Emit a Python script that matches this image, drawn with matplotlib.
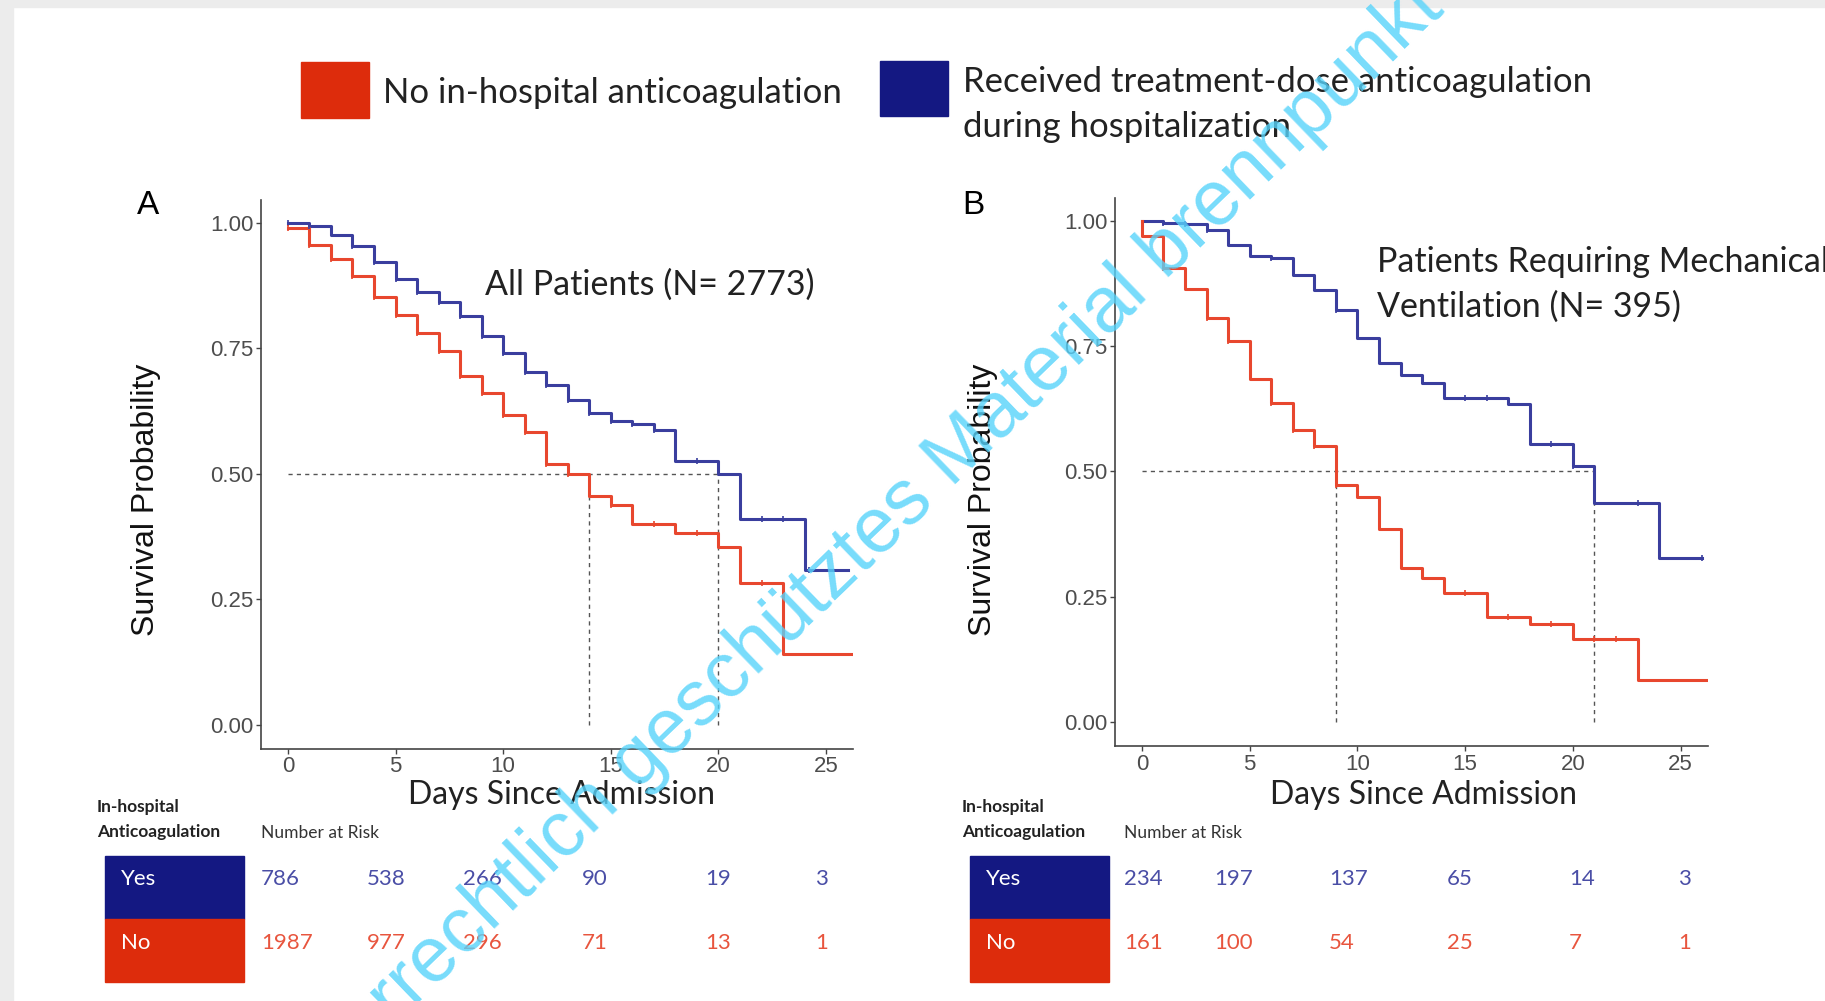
import numpy as np
import matplotlib
matplotlib.use('Agg')
import matplotlib.pyplot as plt
from matplotlib.patches import Rectangle

# ---- data ----
# panel A: all patients
a_blue_t = [0, 1, 2, 3, 4, 5, 6, 7, 8, 9, 10, 11, 12, 13, 14, 15, 16, 17, 18, 20, 21, 24]
a_blue_s = [1.00, 0.994, 0.976, 0.953, 0.922, 0.887, 0.861, 0.841, 0.814, 0.775, 0.741,
            0.702, 0.676, 0.647, 0.620, 0.606, 0.600, 0.588, 0.525, 0.499, 0.409, 0.308]
a_blue_end = 26.0
a_red_t = [0, 1, 2, 3, 4, 5, 6, 7, 8, 9, 10, 11, 12, 13, 14, 15, 16, 18, 20, 21, 23]
a_red_s = [0.99, 0.956, 0.928, 0.894, 0.852, 0.816, 0.781, 0.745, 0.695, 0.661, 0.616,
           0.583, 0.520, 0.500, 0.455, 0.438, 0.399, 0.382, 0.354, 0.282, 0.142]
a_red_end = 26.2
a_blue_cens = [0, 1, 3, 4, 5, 6, 7, 8, 9, 10, 11, 12, 13, 14, 15, 16, 17, 19, 22, 23, 24.2]
a_red_cens = [0, 1, 2, 3, 4, 5, 6, 7, 8, 9, 10, 11, 12, 13, 15, 17, 19, 22]
a_medians = [14, 20]

# panel B: mechanical ventilation
b_blue_t = [0, 1, 2, 3, 4, 5, 6, 7, 8, 9, 10, 11, 12, 13, 14, 17, 18, 20, 21, 24]
b_blue_s = [1.00, 0.996, 0.993, 0.982, 0.951, 0.929, 0.925, 0.892, 0.862, 0.822, 0.766,
            0.716, 0.693, 0.676, 0.646, 0.634, 0.554, 0.510, 0.437, 0.328]
b_blue_end = 26.0
b_red_t = [0, 0, 1, 2, 3, 4, 5, 6, 7, 8, 9, 10, 11, 12, 13, 14, 16, 18, 20, 23]
b_red_s = [1.00, 0.969, 0.905, 0.864, 0.805, 0.761, 0.684, 0.637, 0.582, 0.550, 0.474,
           0.450, 0.385, 0.308, 0.287, 0.258, 0.210, 0.197, 0.167, 0.085]
b_red_end = 26.2
b_blue_cens = [1, 2, 3, 6, 9, 15, 16, 19, 20, 23, 26]
b_red_cens = [1, 3, 4, 6, 7, 8, 9, 15, 17, 19, 21, 22]
b_medians = [9, 21]

risk_yes_A = [786, 538, 266, 90, 19, 3]
risk_no_A = [1987, 977, 296, 71, 13, 1]
risk_yes_B = [234, 197, 137, 65, 14, 3]
risk_no_B = [161, 100, 54, 25, 7, 1]

xticks = [0, 5, 10, 15, 20, 25]
yticks = [0, 0.25, 0.5, 0.75, 1.0]
ytick_labels = ['0.00', '0.25', '0.50', '0.75', '1.00']

label_red = 'No in-hospital anticoagulation'
label_blue = 'Received treatment-dose anticoagulation\nduring hospitalization'

# ---- styles / layout ----
W, H = 1825, 1001
RED_CURVE = '#E8472E'
BLUE_CURVE = '#3A3E9E'
RED_BOX = '#DD2C0C'
BLUE_BOX = '#141882'
RED_NUM = '#E8553E'
BLUE_NUM = '#4A4EA6'
ARIAL = 'Liberation Sans'
CAL = 'Lato'

fig = plt.figure(figsize=(W / 100, H / 100), dpi=100)
fig.patch.set_facecolor('white')


def fx(x):
    return x / W


def fy(y):
    return 1 - y / H


# grey frame at top and left edge of the screenshot
fig.patches.append(Rectangle((0, fy(7)), 1, 7 / H, transform=fig.transFigure,
                             color='#ececec', zorder=0))
fig.patches.append(Rectangle((0, 0), fx(13), 1, transform=fig.transFigure,
                             color='#ececec', zorder=0))


def km_panel(rect, curves, medians):
    ax = fig.add_axes(rect)
    for t, s, end, cens, col in curves:
        tt = list(t) + [end]
        ss = list(s) + [s[-1]]
        ax.step(tt, ss, where='post', color=col, lw=2.2, zorder=3)
        cy = [ss[np.searchsorted(tt, c, side='right') - 1] for c in cens]
        ax.plot(cens, cy, ls='none', marker='|', ms=5, mew=1.2, color=col, zorder=4)
    ax.plot([0, max(medians)], [0.5, 0.5], ls=(0, (3, 3)), color='#555555', lw=1.0, zorder=2)
    for m in medians:
        ax.plot([m, m], [0, 0.5], ls=(0, (3, 3)), color='#555555', lw=1.0, zorder=2)
    ax.set_xlim(-1.25, 26.25)
    ax.set_ylim(-0.047, 1.045)
    ax.set_xticks(xticks)
    ax.set_yticks(yticks)
    ax.set_yticklabels(ytick_labels)
    for side in ['top', 'right']:
        ax.spines[side].set_visible(False)
    for side in ['left', 'bottom']:
        ax.spines[side].set_color('#444444')
        ax.spines[side].set_linewidth(1.2)
    ax.tick_params(length=3.5, width=1, color='#444444', labelcolor='#4d4d4d',
                   labelsize=16, pad=2)
    for lab in ax.get_xticklabels() + ax.get_yticklabels():
        lab.set_fontfamily(ARIAL)
    return ax


axA = km_panel([fx(261), fy(748.5), fx(853 - 261), (748.5 - 200) / H],
               [(a_blue_t, a_blue_s, a_blue_end, a_blue_cens, BLUE_CURVE),
                (a_red_t, a_red_s, a_red_end, a_red_cens, RED_CURVE)], a_medians)
axB = km_panel([fx(1115), fy(746), fx(1707.6 - 1115), (746 - 198) / H],
               [(b_blue_t, b_blue_s, b_blue_end, b_blue_cens, BLUE_CURVE),
                (b_red_t, b_red_s, b_red_end, b_red_cens, RED_CURVE)], b_medians)

# panel letters, axis titles, annotations
fig.text(fx(148), fy(206), 'A', fontsize=24, family=ARIAL, ha='center', va='center')
fig.text(fx(973), fy(206), 'B', fontsize=24, family=ARIAL, ha='center', va='center')
for xc in [146, 983]:
    fig.text(fx(xc), fy(500), 'Survival Probability', fontsize=23, family=ARIAL,
             rotation=90, ha='center', va='center', color='#111111')
fig.text(fx(562), fy(795), 'Days Since Admission', fontsize=23, family=CAL,
         ha='center', va='center', color='#222222')
fig.text(fx(1423), fy(795), 'Days Since Admission', fontsize=23, family=CAL,
         ha='center', va='center', color='#222222')
fig.text(fx(485), fy(285), 'All Patients (N= 2773)', fontsize=24.5, family=CAL,
         ha='left', va='center', color='#222222')
fig.text(fx(1377), fy(262), 'Patients Requiring Mechanical', fontsize=24.5, family=CAL,
         ha='left', va='center', color='#222222')
fig.text(fx(1377), fy(307), 'Ventilation (N= 395)', fontsize=24.5, family=CAL,
         ha='left', va='center', color='#222222')

# legend
fig.patches.append(Rectangle((fx(301), fy(118)), fx(68), 56 / H, transform=fig.transFigure,
                             color=RED_BOX))
fig.patches.append(Rectangle((fx(880), fy(116)), fx(68), 55 / H, transform=fig.transFigure,
                             color=BLUE_BOX))
fig.text(fx(383), fy(93), label_red, fontsize=25, family=CAL, ha='left', va='center',
         color='#222222')
for i, line in enumerate(label_blue.split('\n')):
    fig.text(fx(963), fy(82 + 45 * i), line, fontsize=25, family=CAL, ha='left',
             va='center', color='#222222')


# number at risk tables
def risk_table(x_box, x_head, x_cols, yes, no):
    fig.text(fx(x_head), fy(807), 'In-hospital', fontsize=12.5, family=CAL,
             weight='bold', ha='left', va='center', color='#222222')
    fig.text(fx(x_head), fy(832), 'Anticoagulation', fontsize=12.5, family=CAL,
             weight='bold', ha='left', va='center', color='#222222')
    fig.text(fx(x_cols[0]), fy(833), 'Number at Risk', fontsize=12.5, family=CAL,
             ha='left', va='center', color='#333333')
    fig.patches.append(Rectangle((fx(x_box), fy(919)), fx(139), 63 / H,
                                 transform=fig.transFigure, color=BLUE_BOX))
    fig.patches.append(Rectangle((fx(x_box), fy(982)), fx(139), 63 / H,
                                 transform=fig.transFigure, color=RED_BOX))
    fig.text(fx(x_box + 16), fy(879), 'Yes', fontsize=16, family=CAL, color='white',
             ha='left', va='center')
    fig.text(fx(x_box + 16), fy(943), 'No', fontsize=16, family=CAL, color='white',
             ha='left', va='center')
    for xc, v in zip(x_cols, yes):
        fig.text(fx(xc), fy(879), str(v), fontsize=16, family=CAL, color=BLUE_NUM,
                 ha='left', va='center')
    for xc, v in zip(x_cols, no):
        fig.text(fx(xc), fy(943), str(v), fontsize=16, family=CAL, color=RED_NUM,
                 ha='left', va='center')


risk_table(105, 97, [261, 367, 463, 582, 705, 815], risk_yes_A, risk_no_A)
risk_table(970, 962, [1124, 1214, 1329, 1447, 1569, 1678], risk_yes_B, risk_no_B)

# watermark
fig.text(fx(815), fy(592), 'Urheberrechtlich geschütztes Material brennpunkt',
         fontsize=56, family=ARIAL, color='#56d3fb', alpha=0.8, rotation=44,
         rotation_mode='anchor', ha='center', va='center', zorder=10)

fig.savefig('out.png', dpi=100)
